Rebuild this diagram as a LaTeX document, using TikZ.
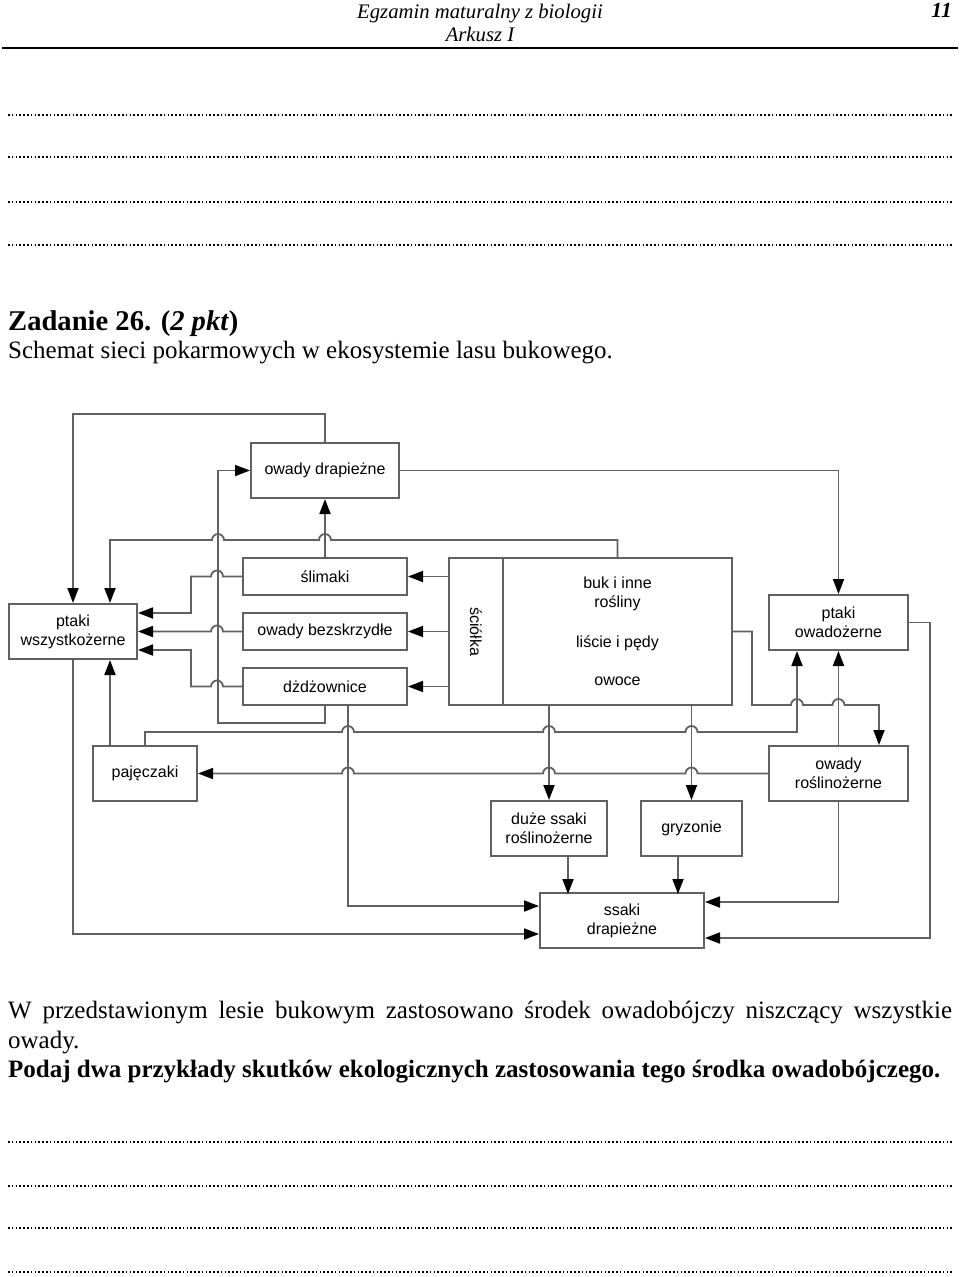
\documentclass[tikz,border=0pt]{standalone}
\usepackage{fontspec}
\setmainfont{Liberation Serif}
\newfontfamily\schematfont{Liberation Sans}
\usetikzlibrary{arrows.meta}

\begin{document}
\begin{tikzpicture}[x=1pt, y=-1pt,
		box/.style={draw=black!62, line width=2pt, align=center, inner sep=0pt,
			font=\schematfont\fontsize{16}{19}\selectfont},
		wym/.style 2 args={minimum width=#1, minimum height=#2},
		link/.style={draw=black!62, line width=1.8pt, -{Triangle[length=15pt, width=11pt, color=black]}},
		hopr/.style={insert path={arc[start angle=180, end angle=0, radius=6pt]}},
		hopl/.style={insert path={arc[start angle=0, end angle=180, radius=6pt]}},
		txt/.style={inner sep=0pt, anchor=base west, font=\fontsize{25}{29}\selectfont},
		kropki/.style={line width=1.6pt, dash pattern=on 1.6pt off 2.2pt}]
	
	\useasboundingbox (0,0) rectangle (960,1277);
	
	% --- Naglowek strony ---
	\node[txt, anchor=base, font=\fontsize{20.7}{24}\selectfont\itshape] (egz) at (480,18) {Egzamin maturalny z biologii};
	\node[txt, anchor=base, font=\fontsize{20.7}{24}\selectfont\itshape] (ark) at (480,41) {Arkusz I};
	\node[txt, anchor=base east, font=\fontsize{21.5}{24}\selectfont\bfseries\itshape] (nr) at (952,17) {11};
	\draw[line width=2pt] (2,48) -- (958,48);
	
	% linie na odpowiedz
	\foreach \y in {115,157,202,245,1142,1186,1228,1272}
		\draw[kropki] (8,\y) -- (952,\y);
	
	\node[txt, font=\fontsize{28.6}{32}\selectfont\bfseries] (zad) at (8,330) {Zadanie 26. (\textit{2 pkt})};
	\node[txt] (sch) at (8,358) {Schemat sieci pokarmowych w ekosystemie lasu bukowego.};
	
	% --- Wezly schematu ---
	\node[box, wym={148pt}{55pt}] (odrap) at (325,470.5) {owady drapieżne};
	\node[box, wym={164pt}{37pt}] (slim) at (325,576.5) {ślimaki};
	\node[box, wym={164pt}{37pt}] (obez) at (325,631.5) {owady bezskrzydłe};
	\node[box, wym={164pt}{37pt}] (dzdz) at (325,686.5) {dżdżownice};
	\node[box, wym={54pt}{147pt}] (sciol) at (476,631.5) {\rotatebox{-90}{ściółka}};
	\node[box, wym={229pt}{147pt}] (rosl) at (617.5,631.5) {buk i inne\\rośliny\\[21pt]liście i pędy\\[19pt]owoce};
	\node[box, wym={128pt}{55pt}] (pwsz) at (73,631.5) {ptaki\\wszystkożerne};
	\node[box, wym={139pt}{55pt}] (powa) at (838.5,622.5) {ptaki\\owadożerne};
	\node[box, wym={104pt}{55pt}] (pajecz) at (145,773.5) {pajęczaki};
	\node[box, wym={139pt}{55pt}] (orosl) at (838.5,773.5) {owady\\roślinożerne};
	\node[box, wym={116pt}{55pt}] (dssaki) at (549,828.5) {duże ssaki\\roślinożerne};
	\node[box, wym={101pt}{55pt}] (gryz) at (691.5,828.5) {gryzonie};
	\node[box, wym={164pt}{55pt}] (sdrap) at (622,920.5) {ssaki\\drapieżne};
	
	% --- Zaleznosci pokarmowe ---
	% Z owadow drapieznych
	\draw[link] (odrap.north) -- ++(0,-28) -| (pwsz.north);
	\draw[link] (odrap.east) -| (powa.north);
	
	% Ze slimakow, owadow bezskrzydlych i dzdzownic
	\draw[link] (slim.north) -- (odrap.south);
	\draw[link] (slim.west) -- ++(-19,0) [hopl] -- ++(-20,0) |- ([yshift=18.5pt]pwsz.east);
	\draw[link] (obez.west) -- ++(-19,0) [hopl] -- (pwsz.east);
	\draw[link] (dzdz.west) -- ++(-19,0) [hopl] -- ++(-20,0) |- ([yshift=-18.5pt]pwsz.east);
	\draw[link] (dzdz.south) |- (218,723) |- (odrap.west);
	\draw[link] ([xshift=23pt]dzdz.south) |- ([yshift=14.5pt]sdrap.west);
	
	% Ze sciolki
	\foreach \n in {slim, obez, dzdz}
		\draw[link] (sciol.west |- \n) -- (\n.east);
	
	% Z roslin
	\draw[link] (rosl.north) |- (331,540) [hopl] -- (224,540) [hopl] -| ([xshift=37pt]pwsz.north);
	\draw[link] (dssaki.north |- rosl.south) -- (dssaki.north);
	\draw[link] (gryz.north |- rosl.south) -- (gryz.north);
	\draw[link] (rosl.east) -- ++(19,0) |- (791,705) [hopr] -- (832.5,705) [hopr] -| ([xshift=40.5pt]orosl.north);
	
	% Z ptakow, pajeczakow i owadow roslinozernych
	\draw[link] (pwsz.south) |- ([yshift=-13.5pt]sdrap.west);
	\draw[link] ([xshift=-35pt]pajecz.north) -- ([xshift=37pt]pwsz.south);
	\draw[link] (pajecz.north) |- (342,732) [hopr] -- (543,732) [hopr] -- (685.5,732) [hopr] -| ([xshift=-41.5pt]powa.south);
	\draw[link] (orosl.west) -- (697.5,773.5) [hopl] -- (555,773.5) [hopl] -- (354,773.5) [hopl] -- (pajecz.east);
	\draw[link] (orosl.north) -- (powa.south);
	\draw[link] (orosl.south) |- ([yshift=18.5pt]sdrap.east);
	\draw[link] (powa.east) -- ++(21,0) |- ([yshift=-17.5pt]sdrap.east);
	
	% Ze ssakow roslinozernych
	\draw[link] ([xshift=19pt]dssaki.south) -- ++(0,37);
	\draw[link] ([xshift=-13.5pt]gryz.south) -- ++(0,37);
	
	% --- Polecenie ---
	\node[txt] (tresc) at (8,1018) {\makebox[944pt][s]{W przedstawionym lesie bukowym zastosowano środek owadobójczy niszczący wszystkie}};
	\node[txt] (tresc2) at (8,1048) {owady.};
	\node[txt] (polec) at (8,1077) {\textbf{Podaj dwa przykłady skutków ekologicznych zastosowania tego środka owadobójczego.}};
	
\end{tikzpicture}
\end{document}
